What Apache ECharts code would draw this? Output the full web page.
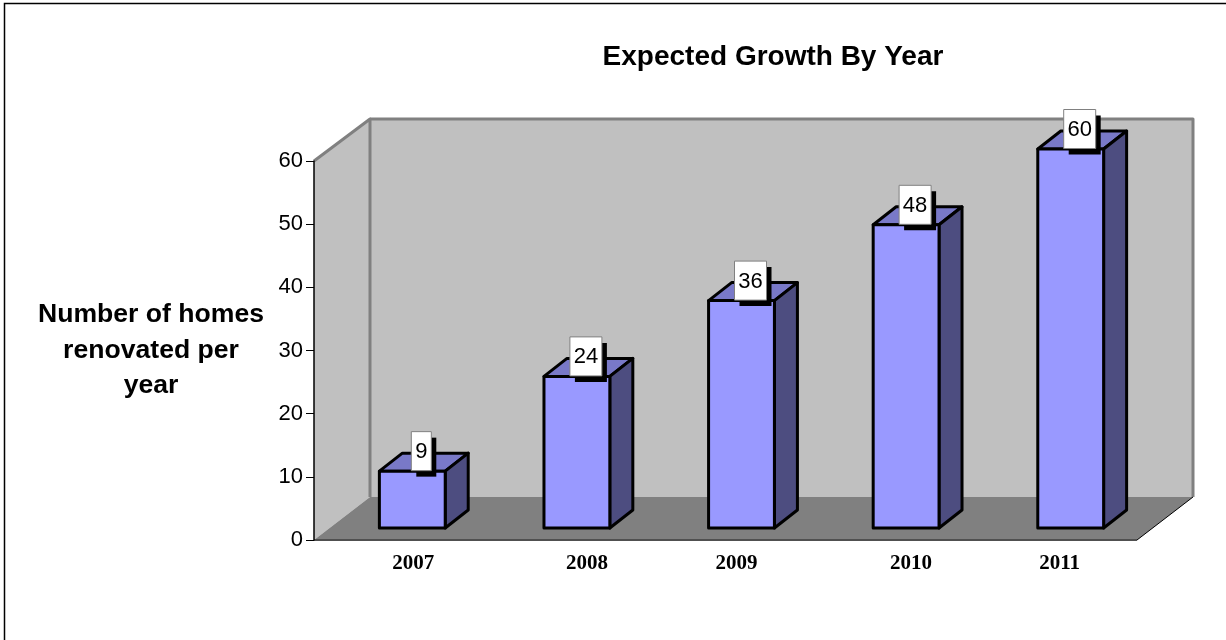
<!DOCTYPE html>
<html>
<head>
<meta charset="utf-8">
<title>Expected Growth By Year</title>
<style>
  html, body { margin: 0; padding: 0; background: #fff; }
  #chart { width: 1226px; height: 640px; }
</style>
<script src="https://cdn.jsdelivr.net/npm/echarts@6/dist/echarts.min.js"></script>
</head>
<body>
<div id="chart"></div>
<script>
// Chart content
const years = ['2007', '2008', '2009', '2010', '2011'];
const homes = [9, 24, 36, 48, 60];
const yTicks = { min: 0, max: 60, interval: 10 };
const chartTitle = 'Expected Growth By Year';
const yAxisTitle = 'Number of homes\nrenovated per\nyear';

// Horizontal nudge of each year label, in pixels
const yearLabelNudge = [17, 26, 11, 21, 5];

// Oblique projection: how far the back wall and the bar depth are displaced
const WALL_DX = 56, WALL_DY = -42, FLOOR_DY = -43;
const BAR_DX = 23, BAR_DY = -18;
const BAR_SHIFT_X = 16, BAR_SHIFT_Y = -12;
const BAR_BAND = 0.4;

const LABEL_FONT = 'Liberation Sans, Arial, sans-serif';

function poly(points, fill, stroke, lineWidth) {
  return {
    type: 'polygon',
    shape: { points },
    style: { fill, stroke: stroke || 'none', lineWidth: lineWidth || 0, lineJoin: 'round' }
  };
}

// Back wall, side wall and floor of the plot box
function renderRoom(params) {
  const c = params.coordSys;
  const l = c.x, r = c.x + c.width, t = c.y, b = c.y + c.height;
  const dx = WALL_DX, dy = WALL_DY, fy = FLOOR_DY;
  const wallEdge = { stroke: '#808080', lineWidth: 3, fill: 'none', lineJoin: 'round' };
  return {
    type: 'group',
    children: [
      poly([[l + dx, t + dy], [r + dx, t + dy], [r + dx, b + fy], [l + dx, b + fy]], '#C0C0C0'),
      poly([[l, t], [l + dx, t + dy], [l + dx, b + fy], [l, b]], '#C0C0C0'),
      { type: 'polyline', shape: { points: [[l, t], [l + dx, t + dy], [l + dx, b + fy]] }, style: wallEdge },
      { type: 'polyline', shape: { points: [[l + dx, t + dy], [r + dx, t + dy], [r + dx, b + fy]] }, style: wallEdge },
      poly([[l, b], [l + dx, b + fy], [r + dx, b + fy], [r, b]], '#808080'),
      { type: 'line', shape: { x1: r, y1: b, x2: r + dx, y2: b + fy }, style: { stroke: '#000', lineWidth: 1 } },
      { type: 'line', shape: { x1: l, y1: b, x2: r, y2: b }, style: { stroke: '#505050', lineWidth: 2 } }
    ]
  };
}

// One extruded bar: front face, top face and side face
function renderBar(params, api) {
  const top = api.coord([api.value(0), api.value(1)]);
  const base = api.coord([api.value(0), 0]);
  const w = api.size([1, 0])[0] * BAR_BAND;
  const x0 = top[0] + BAR_SHIFT_X - w / 2, x1 = x0 + w;
  const y0 = top[1] + BAR_SHIFT_Y, y1 = base[1] + BAR_SHIFT_Y;
  const dx = BAR_DX, dy = BAR_DY;
  return {
    type: 'group',
    children: [
      poly([[x0, y0], [x1, y0], [x1 + dx, y0 + dy], [x0 + dx, y0 + dy]], '#7979C8', '#000', 3),
      poly([[x1, y0], [x1 + dx, y0 + dy], [x1 + dx, y1 + dy], [x1, y1]], '#4D4D80', '#000', 3),
      poly([[x0, y0], [x1, y0], [x1, y1], [x0, y1]], '#9999FF', '#000', 3)
    ]
  };
}

// White value tag with a hard black drop shadow
function renderTag(params, api) {
  const top = api.coord([api.value(0), api.value(1)]);
  const text = String(api.value(1));
  const w = text.length > 1 ? 32 : 20, h = 39;
  const cx = top[0] + BAR_SHIFT_X + 9;
  const bottom = top[1] + BAR_SHIFT_Y - 0.5;
  return {
    type: 'group',
    children: [
      { type: 'rect', shape: { x: cx - w / 2 + 5, y: bottom - h + 6, width: w, height: h }, style: { fill: '#000' } },
      { type: 'rect', shape: { x: cx - w / 2, y: bottom - h, width: w, height: h }, style: { fill: '#fff', stroke: '#808080', lineWidth: 1 } },
      { type: 'text', style: { x: cx, y: bottom - h / 2 + 1, text, align: 'center', verticalAlign: 'middle', fill: '#000', font: '22px ' + LABEL_FONT } }
    ]
  };
}

const seriesData = years.map((y, i) => [i, homes[i]]);

const option = {
  animation: false,
  backgroundColor: '#fff',
  title: {
    text: chartTitle,
    left: 768,
    top: 38,
    textAlign: 'center',
    textStyle: { fontFamily: LABEL_FONT, fontWeight: 'bold', fontSize: 28, color: '#000' }
  },
  // Frame along the top and left of the page
  graphic: [{
    type: 'polyline',
    silent: true,
    shape: { points: [[4.5, 640], [4.5, 3.5], [1226, 3.5]] },
    style: { stroke: '#000', lineWidth: 1.5, fill: 'none' }
  }],
  grid: { left: 314, top: 161, width: 823, height: 379 },
  xAxis: {
    type: 'category',
    data: years.map((y, i) => ({
      value: y,
      textStyle: { padding: [0, 0, 0, yearLabelNudge[i] * 2] }
    })),
    axisLine: { show: false },
    axisTick: { show: false },
    splitLine: { show: false },
    axisLabel: {
      interval: 0,
      margin: 13,
      fontFamily: 'Liberation Serif, Times New Roman, serif',
      fontWeight: 'bold',
      fontSize: 21,
      color: '#000'
    }
  },
  yAxis: {
    type: 'value',
    min: yTicks.min,
    max: yTicks.max,
    interval: yTicks.interval,
    z: 6,
    name: yAxisTitle,
    nameLocation: 'middle',
    nameRotate: 0,
    nameGap: 163,
    nameTextStyle: {
      fontFamily: LABEL_FONT, fontWeight: 'bold', fontSize: 26.6, color: '#000',
      align: 'center', lineHeight: 35.5
    },
    axisLine: { show: true, lineStyle: { color: '#000', width: 1.5 } },
    axisTick: { show: true, length: 8, lineStyle: { color: '#000', width: 1 } },
    splitLine: { show: false },
    axisLabel: { margin: 11, fontFamily: LABEL_FONT, fontSize: 22, color: '#000' }
  },
  series: [
    { type: 'custom', name: 'room', z: 1, silent: true, renderItem: renderRoom, data: [[0, 0]], clip: false, encode: { x: 0, y: 1 } },
    { type: 'custom', name: 'Homes', z: 2, silent: true, renderItem: renderBar, data: seriesData, clip: false, encode: { x: 0, y: 1 } },
    { type: 'custom', name: 'Value tags', z: 3, silent: true, renderItem: renderTag, data: seriesData, clip: false, encode: { x: 0, y: 1 } }
  ]
};

echarts.init(document.getElementById('chart'), null, { renderer: 'canvas' }).setOption(option);
</script>
</body>
</html>
